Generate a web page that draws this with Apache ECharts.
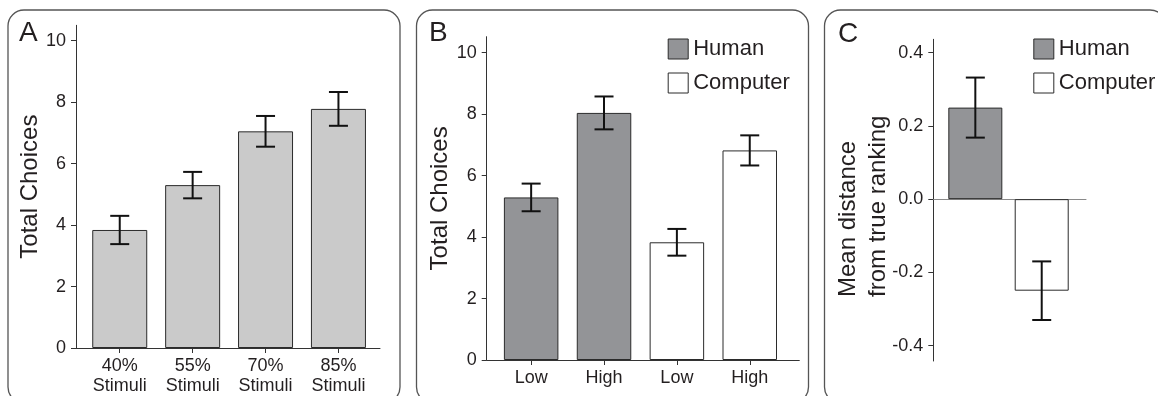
<!DOCTYPE html>
<html><head><meta charset="utf-8">
<script src="https://cdn.jsdelivr.net/npm/echarts@6/dist/echarts.min.js"></script>
<style>html,body{margin:0;padding:0;background:#fff}#c{width:1158px;height:396px}</style>
</head><body><div id="c"></div>
<script>
// ---- Data ----
const stimCategories = ['40%\nStimuli', '55%\nStimuli', '70%\nStimuli', '85%\nStimuli'];
const stimValues = [3.84, 5.30, 7.05, 7.78];
const stimErrors = [0.46, 0.43, 0.50, 0.55];

const groupCategories = ['Low', 'High', 'Low', 'High'];
const humanValues = [5.29, 8.04];
const humanErrors = [0.45, 0.535];
const computerValues = [3.83, 6.82];
const computerErrors = [0.435, 0.49];

const rankCategories = ['Human', 'Computer'];
const rankHuman = [0.25];
const rankHumanErr = [0.082];
const rankComputer = [-0.25];
const rankComputerErr = [0.08];

const choiceTicks = [0, 2, 4, 6, 8, 10];
const distanceTicks = [-0.4, -0.2, 0, 0.2, 0.4];

// ---- Styles ----
const FONT = '"Liberation Sans", Arial, Helvetica, sans-serif';
const TXT = '#231f20';
const AXIS = '#333';
const BORDER = '#2b2b2b';
const LIGHT = '#cacaca';
const HUMAN = '#939497';
const COMPUTER = '#ffffff';

const chart = echarts.init(document.getElementById('c'), null, {renderer: 'canvas'});

function yAxisCfg(grid, min, max, ticks, fmt, extra) {
  return Object.assign({
    type: 'value', gridIndex: grid, min: min, max: max,
    axisLine: {show: true, onZero: false, lineStyle: {color: AXIS, width: 1}},
    axisTick: {show: true, length: 5, customValues: ticks, lineStyle: {color: AXIS}},
    axisLabel: {customValues: ticks, fontSize: 18, color: TXT, fontFamily: FONT, margin: 10, formatter: fmt},
    splitLine: {show: false}
  }, extra || {});
}
function xAxisCfg(grid, min, max, n, labels, showTicks, lineColor) {
  const pos = labels ? labels.map((_, i) => i) : [];
  return {
    type: 'value', gridIndex: grid, min: min, max: max,
    axisLine: {show: true, onZero: true, lineStyle: {color: lineColor, width: 1}},
    axisTick: {show: showTicks, length: 5, customValues: pos, lineStyle: {color: AXIS}},
    axisLabel: {show: showTicks, customValues: pos, fontSize: 18, lineHeight: 20, color: TXT, fontFamily: FONT, margin: 8,
      formatter: v => labels ? labels[Math.round(v)] : ''},
    splitLine: {show: false}
  };
}
function errorSeries(xi, points) {
  return {
    type: 'custom', xAxisIndex: xi, yAxisIndex: xi, silent: true, z: 10,
    encode: {x: 0, y: 1},
    data: points,
    renderItem: function (params, api) {
      const x = api.value(0), m = api.value(1), e = api.value(2);
      const hi = api.coord([x, m + e]), lo = api.coord([x, m - e]);
      const hw = 9.5;
      const st = {stroke: '#111', lineWidth: 2};
      return {type: 'group', children: [
        {type: 'line', shape: {x1: hi[0], y1: hi[1], x2: lo[0], y2: lo[1]}, style: st},
        {type: 'line', shape: {x1: hi[0] - hw, y1: hi[1], x2: hi[0] + hw, y2: hi[1]}, style: st},
        {type: 'line', shape: {x1: lo[0] - hw, y1: lo[1], x2: lo[0] + hw, y2: lo[1]}, style: st}
      ]};
    }
  };
}
const barItem = c => ({color: c, borderColor: BORDER, borderWidth: 1});

const option = {
  animation: false,
  backgroundColor: '#fff',
  textStyle: {fontFamily: FONT},
  grid: [
    {left: 76, top: 25.3, width: 304, height: 323},
    {left: 486.7, top: 36.7, width: 312.6, height: 323.3},
    {left: 933.3, top: 39.3, width: 152.7, height: 321.7}
  ],
  xAxis: [
    xAxisCfg(0, -0.6, 3.57, 4, stimCategories, true, AXIS),
    xAxisCfg(1, -0.61, 3.68, 4, groupCategories, true, AXIS),
    xAxisCfg(2, -0.633, 1.667, 2, null, false, '#8a8a8a')
  ],
  yAxis: [
    yAxisCfg(0, 0, 10.5, choiceTicks, v => String(v), {
      name: 'Total Choices', nameLocation: 'middle', nameRotate: 90, nameGap: 28,
      nameTextStyle: {fontSize: 24, color: TXT, fontFamily: FONT}}),
    yAxisCfg(1, 0, 10.52, choiceTicks, v => String(v), {
      name: 'Total Choices', nameLocation: 'middle', nameRotate: 90, nameGap: 24,
      nameTextStyle: {fontSize: 24, color: TXT, fontFamily: FONT}}),
    yAxisCfg(2, -0.442, 0.4365, distanceTicks, v => v.toFixed(1))
  ],
  legend: [
    {data: ['Human', 'Computer'], orient: 'vertical', left: 662.7, top: 33, icon: 'rect',
      itemWidth: 20, itemHeight: 20, itemGap: 12, selectedMode: false,
      itemStyle: {borderColor: BORDER, borderWidth: 1},
      textStyle: {fontSize: 22, color: TXT, fontFamily: FONT}},
    {data: ['Human', 'Computer'], orient: 'vertical', left: 1028.3, top: 33, icon: 'rect',
      itemWidth: 20, itemHeight: 20, itemGap: 12, selectedMode: false,
      itemStyle: {borderColor: BORDER, borderWidth: 1},
      textStyle: {fontSize: 22, color: TXT, fontFamily: FONT}}
  ],
  graphic: [
    {type: 'rect', shape: {x: 8, y: 10, width: 392, height: 393, r: 16}, style: {fill: 'none', stroke: '#555', lineWidth: 1.3}, silent: true},
    {type: 'rect', shape: {x: 416.5, y: 10, width: 392, height: 393, r: 16}, style: {fill: 'none', stroke: '#555', lineWidth: 1.3}, silent: true},
    {type: 'rect', shape: {x: 824.5, y: 10, width: 341.5, height: 393, r: 16}, style: {fill: 'none', stroke: '#555', lineWidth: 1.3}, silent: true},
    {type: 'text', x: 19, y: 33.3, style: {text: 'A', font: '28px ' + FONT, fill: TXT, align: 'left', verticalAlign: 'middle', textAlign: 'left', textVerticalAlign: 'middle'}},
    {type: 'text', x: 429, y: 33, style: {text: 'B', font: '28px ' + FONT, fill: TXT, align: 'left', verticalAlign: 'middle', textAlign: 'left', textVerticalAlign: 'middle'}},
    {type: 'text', x: 838, y: 34.5, style: {text: 'C', font: '28px ' + FONT, fill: TXT, align: 'left', verticalAlign: 'middle', textAlign: 'left', textVerticalAlign: 'middle'}},
    {type: 'text', x: 863, y: 297, rotation: Math.PI / 2,
      style: {text: 'Mean distance\nfrom true ranking', font: '24px ' + FONT, fill: TXT, lineHeight: 30,
        align: 'left', verticalAlign: 'middle', textAlign: 'left', textVerticalAlign: 'middle'}}
  ],
  series: [
    {type: 'bar', name: 'Stimuli', xAxisIndex: 0, yAxisIndex: 0, barWidth: 55,
      data: stimValues.map((v, i) => [i, v]), itemStyle: barItem(LIGHT)},
    errorSeries(0, stimValues.map((v, i) => [i, v, stimErrors[i]])),

    {type: 'bar', name: 'Human', xAxisIndex: 1, yAxisIndex: 1, barWidth: 54.5, barGap: '-100%',
      data: humanValues.map((v, i) => [i, v]), itemStyle: barItem(HUMAN)},
    {type: 'bar', name: 'Computer', xAxisIndex: 1, yAxisIndex: 1, barWidth: 54.5, barGap: '-100%',
      data: computerValues.map((v, i) => [i + humanValues.length, v]), itemStyle: barItem(COMPUTER)},
    errorSeries(1, humanValues.map((v, i) => [i, v, humanErrors[i]])
      .concat(computerValues.map((v, i) => [i + humanValues.length, v, computerErrors[i]]))),

    {type: 'bar', name: 'Human', xAxisIndex: 2, yAxisIndex: 2, barWidth: 54, barGap: '-100%',
      data: rankHuman.map((v, i) => [i, v]), itemStyle: barItem(HUMAN)},
    {type: 'bar', name: 'Computer', xAxisIndex: 2, yAxisIndex: 2, barWidth: 54, barGap: '-100%',
      data: rankComputer.map((v, i) => [i + rankHuman.length, v]), itemStyle: barItem(COMPUTER)},
    errorSeries(2, rankHuman.map((v, i) => [i, v, rankHumanErr[i]])
      .concat(rankComputer.map((v, i) => [i + rankHuman.length, v, rankComputerErr[i]])))
  ]
};
chart.setOption(option);
</script>
</body></html>
